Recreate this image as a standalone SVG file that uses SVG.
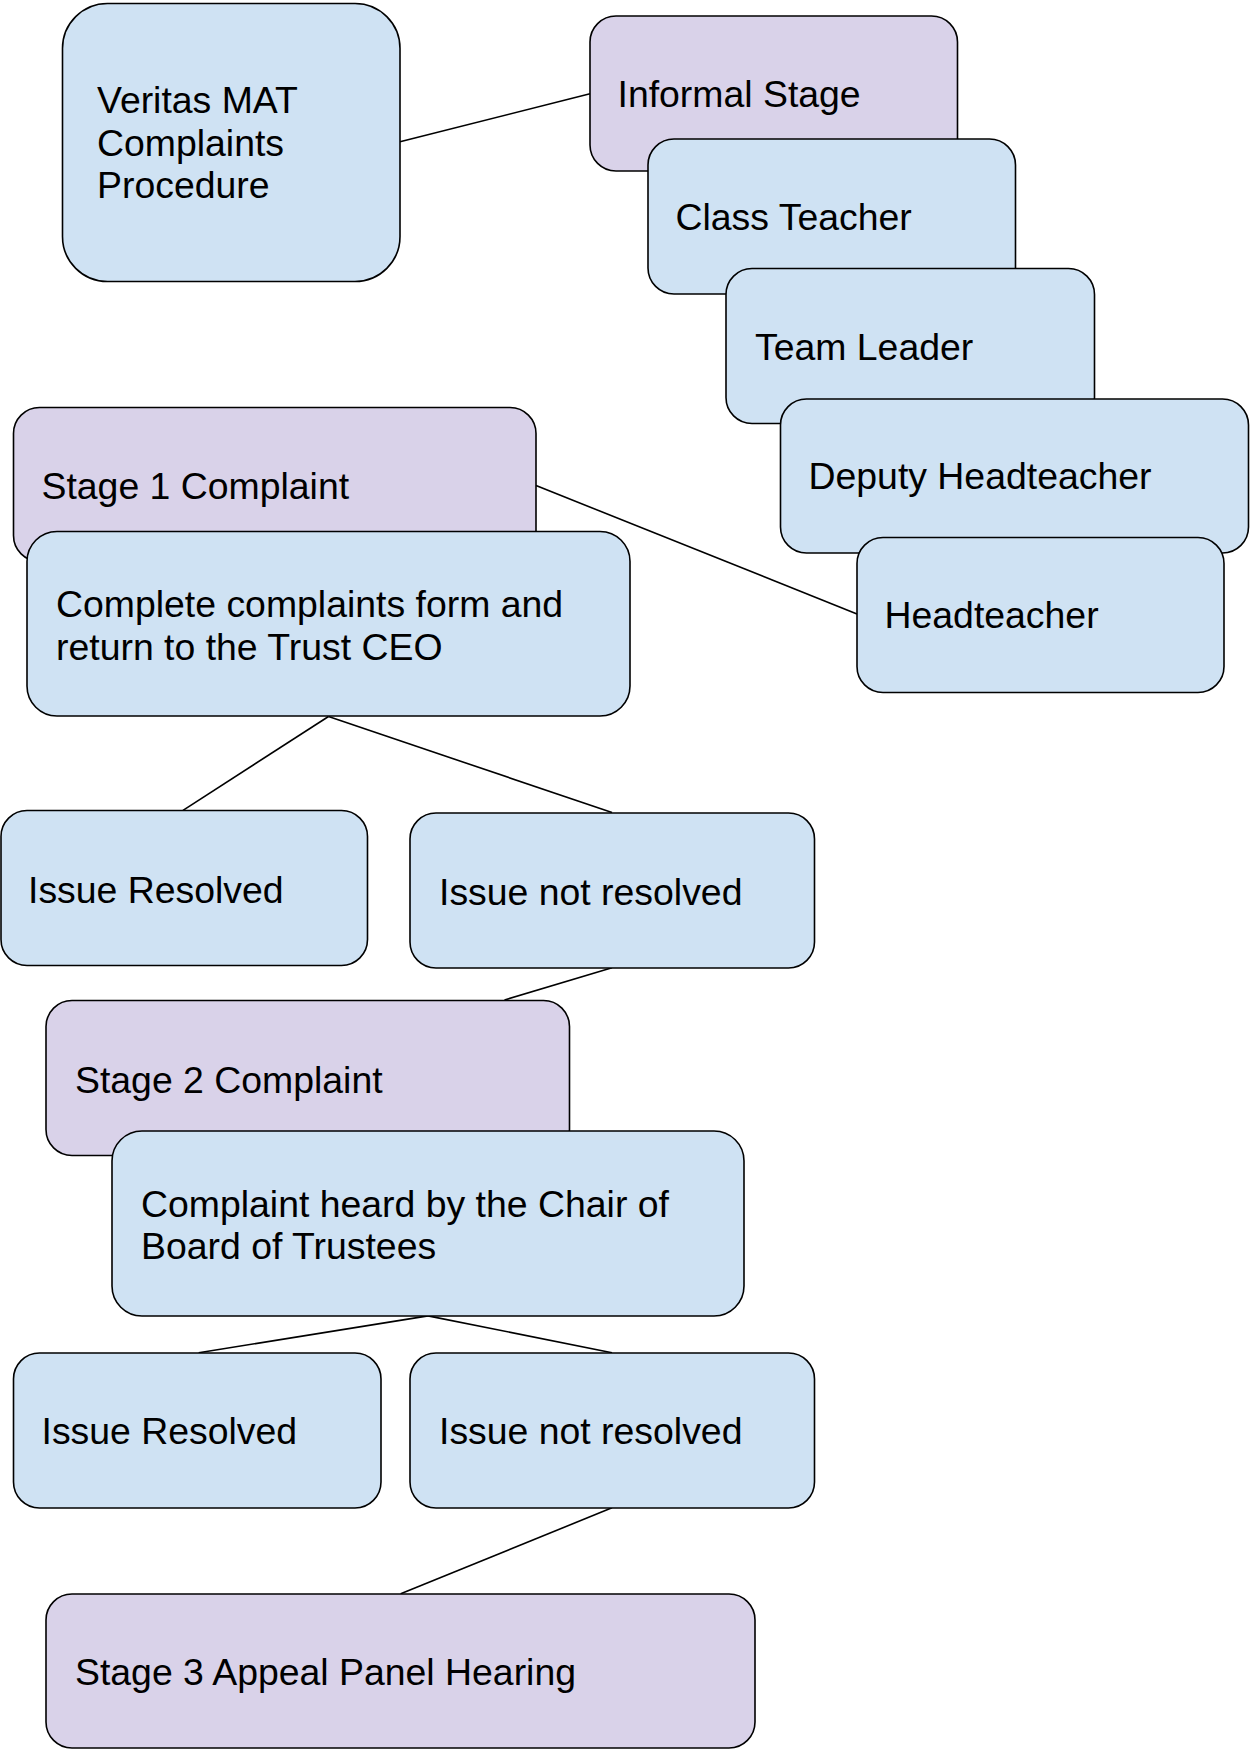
<svg xmlns="http://www.w3.org/2000/svg" width="1250" height="1751" viewBox="0 0 1250 1751">
<style>
.blue{fill:#cfe2f3;stroke:#000;stroke-width:1.6}
.purple{fill:#d9d2e9;stroke:#000;stroke-width:1.6}
.t{font-family:"Liberation Sans",Arial,sans-serif;font-size:37.4px;fill:#000}
.c line{stroke:#000;stroke-width:1.6}
</style>
<rect width="1250" height="1751" fill="#fff"/>
<g class="c" id="connectors">
<line x1="400" y1="141.7" x2="590" y2="93.8"/>
<line x1="536" y1="485.5" x2="857" y2="613.9"/>
<line x1="328.5" y1="716.5" x2="183" y2="810.3"/>
<line x1="328.5" y1="716.5" x2="612" y2="812.5"/>
<line x1="612" y1="967.7" x2="504.5" y2="1000"/>
<line x1="428" y1="1315.9" x2="198.7" y2="1352.7"/>
<line x1="428" y1="1315.9" x2="612" y2="1352.7"/>
<line x1="612" y1="1507.8" x2="400.7" y2="1593.8"/>
</g>
<g id="veritas"><rect class="blue" x="62.5" y="3.5" width="337.5" height="278" rx="45"/>
<text class="t" x="97" y="113">Veritas MAT</text><text class="t" x="97" y="155.5">Complaints</text><text class="t" x="97" y="198">Procedure</text></g>
<g id="informal"><rect class="purple" x="590" y="16" width="367.5" height="155" rx="26"/>
<text class="t" x="617.5" y="107">Informal Stage</text></g>
<g id="classteacher"><rect class="blue" x="648" y="139" width="367.5" height="155" rx="26"/>
<text class="t" x="675.5" y="230">Class Teacher</text></g>
<g id="teamleader"><rect class="blue" x="726" y="268.5" width="368.5" height="155" rx="26"/>
<text class="t" x="755" y="359.5">Team Leader</text></g>
<g id="deputy"><rect class="blue" x="780.5" y="399" width="468" height="154" rx="26"/>
<text class="t" x="808.5" y="489">Deputy Headteacher</text></g>
<g id="headteacher"><rect class="blue" x="857" y="537.5" width="367" height="155" rx="26"/>
<text class="t" x="884.5" y="628">Headteacher</text></g>
<g id="stage1"><rect class="purple" x="13.5" y="407.5" width="522.5" height="154" rx="26"/>
<text class="t" x="41.5" y="499">Stage 1 Complaint</text></g>
<g id="completeform"><rect class="blue" x="27" y="531.5" width="603" height="184.5" rx="30"/>
<text class="t" x="56" y="617">Complete complaints form and</text><text class="t" x="56" y="659.6">return to the Trust CEO</text></g>
<g id="resolved1"><rect class="blue" x="1" y="810.5" width="366.5" height="155" rx="26"/>
<text class="t" x="28" y="903">Issue Resolved</text></g>
<g id="notresolved1"><rect class="blue" x="410" y="813" width="404.5" height="155" rx="26"/>
<text class="t" x="439" y="905">Issue not resolved</text></g>
<g id="stage2"><rect class="purple" x="46" y="1000.5" width="523.5" height="155" rx="26"/>
<text class="t" x="75" y="1092.6">Stage 2 Complaint</text></g>
<g id="chair"><rect class="blue" x="112" y="1131" width="632" height="185" rx="30"/>
<text class="t" x="141" y="1216.6">Complaint heard by the Chair of</text><text class="t" x="141" y="1259">Board of Trustees</text></g>
<g id="resolved2"><rect class="blue" x="13.5" y="1353" width="367.5" height="155" rx="26"/>
<text class="t" x="41.5" y="1444.3">Issue Resolved</text></g>
<g id="notresolved2"><rect class="blue" x="410" y="1353" width="404.5" height="155" rx="26"/>
<text class="t" x="439" y="1444.3">Issue not resolved</text></g>
<g id="stage3"><rect class="purple" x="46" y="1594" width="709" height="154" rx="26"/>
<text class="t" x="75" y="1685.3">Stage 3 Appeal Panel Hearing</text></g>
</svg>
